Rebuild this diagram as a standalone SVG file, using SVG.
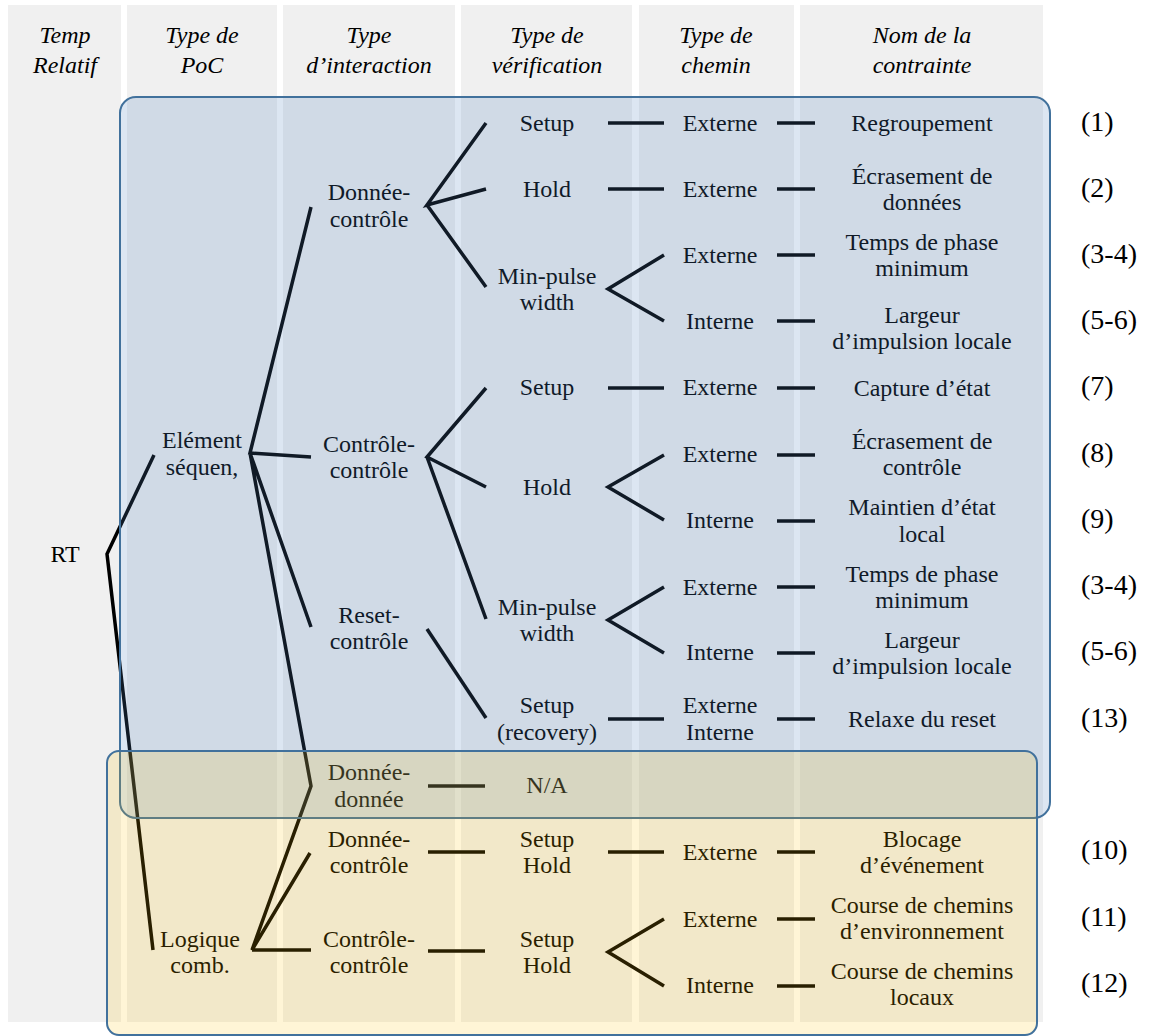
<svg xmlns="http://www.w3.org/2000/svg" width="1151" height="1036" viewBox="0 0 1151 1036">
<style>
text{font-family:Liberation Serif,DejaVu Serif,serif;font-size:24px;fill:#000;text-anchor:middle}
.h{font-style:italic}
.n{font-size:28px;text-anchor:start}
.col{fill:#f0f0f0}
.c{fill:none;stroke:#000;stroke-width:3.5;stroke-linejoin:miter}
</style>
<rect width="1151" height="1036" fill="#fff"/>
<g id="columns">
<rect class="col" x="8" y="5" width="113" height="1017"/>
<rect class="col" x="127" y="5" width="150" height="1017"/>
<rect class="col" x="283" y="5" width="172" height="1017"/>
<rect class="col" x="461" y="5" width="171" height="1017"/>
<rect class="col" x="639" y="5" width="155" height="1017"/>
<rect class="col" x="800" y="5" width="243" height="1017"/>
</g>
<g id="headers">
<text class="h" x="65" y="43">Temp</text><text class="h" x="65" y="73">Relatif</text>
<text class="h" x="202" y="43">Type de</text><text class="h" x="202" y="73">PoC</text>
<text class="h" x="369" y="43">Type</text><text class="h" x="369" y="73">d’interaction</text>
<text class="h" x="547" y="43">Type de</text><text class="h" x="547" y="73">vérification</text>
<text class="h" x="716" y="43">Type de</text><text class="h" x="716" y="73">chemin</text>
<text class="h" x="922" y="43">Nom de la</text><text class="h" x="922" y="73">contrainte</text>
</g>
<g id="connectors">
<path class="c" d="M154,455 L107,554 L153,950"/>
<path class="c" d="M311,207 L250,453 L311,457 M250,453 L311,627 M250,453 L311,786 L252,950 L310,853 M252,950 L311,950"/>
<path class="c" d="M486,123 L427,205 L486,189 M427,205 L486,287"/>
<path class="c" d="M486,388 L427,457 L486,487 M427,457 L486,619"/>
<path class="c" d="M427,629 L486,718"/>
<path class="c" d="M608,123 H664 M608,189 H664 M664,255 L608,289 L664,321 M608,388 H664 M664,455 L608,487 L664,520 M664,587 L608,620 L664,653 M608,719 H664"/>
<path class="c" d="M777,123 H815 M777,189 H815 M777,255 H815 M777,321 H815 M777,388 H815 M777,455 H815 M777,521 H815 M777,587 H815 M777,653 H815 M777,719 H815"/>
<path class="c" d="M428,786 H485 M428,852 H485 M428,951 H485 M608,852 H664 M664,919 L608,952 L664,986 M777,852 H815 M777,919 H815 M777,986 H815"/>
</g>
<g id="n-rt"><text x="65" y="562">RT</text></g>
<g id="n-element"><text x="202" y="448">Elément</text><text x="202" y="475">séquen,</text></g>
<g id="n-logique"><text x="200" y="947">Logique</text><text x="200" y="973">comb.</text></g>
<g id="n-dc1"><text x="369" y="200">Donnée-</text><text x="369" y="227">contrôle</text></g>
<g id="n-cc1"><text x="369" y="452">Contrôle-</text><text x="369" y="478">contrôle</text></g>
<g id="n-rc"><text x="369" y="623">Reset-</text><text x="369" y="649">contrôle</text></g>
<g id="n-dd"><text x="369" y="780">Donnée-</text><text x="369" y="807">donnée</text></g>
<g id="n-dc2"><text x="369" y="847">Donnée-</text><text x="369" y="873">contrôle</text></g>
<g id="n-cc2"><text x="369" y="947">Contrôle-</text><text x="369" y="973">contrôle</text></g>
<g id="n-v1"><text x="547" y="131">Setup</text></g>
<g id="n-v2"><text x="547" y="197">Hold</text></g>
<g id="n-v3"><text x="547" y="284">Min-pulse</text><text x="547" y="310">width</text></g>
<g id="n-v4"><text x="547" y="395">Setup</text></g>
<g id="n-v5"><text x="547" y="495">Hold</text></g>
<g id="n-v6"><text x="547" y="615">Min-pulse</text><text x="547" y="641">width</text></g>
<g id="n-v7"><text x="547" y="713">Setup</text><text x="547" y="740">(recovery)</text></g>
<g id="n-v8"><text x="547" y="793">N/A</text></g>
<g id="n-v9"><text x="547" y="847">Setup</text><text x="547" y="873">Hold</text></g>
<g id="n-v10"><text x="547" y="947">Setup</text><text x="547" y="973">Hold</text></g>
<g id="n-p1"><text x="720" y="131">Externe</text></g>
<g id="n-p2"><text x="720" y="197">Externe</text></g>
<g id="n-p3"><text x="720" y="263">Externe</text></g>
<g id="n-p4"><text x="720" y="329">Interne</text></g>
<g id="n-p5"><text x="720" y="395">Externe</text></g>
<g id="n-p6"><text x="720" y="462">Externe</text></g>
<g id="n-p7"><text x="720" y="528">Interne</text></g>
<g id="n-p8"><text x="720" y="595">Externe</text></g>
<g id="n-p9"><text x="720" y="660">Interne</text></g>
<g id="n-p10"><text x="720" y="713">Externe</text><text x="720" y="740">Interne</text></g>
<g id="n-p11"><text x="720" y="860">Externe</text></g>
<g id="n-p12"><text x="720" y="927">Externe</text></g>
<g id="n-p13"><text x="720" y="993">Interne</text></g>
<g id="n-c1"><text x="922" y="131">Regroupement</text><text class="n" x="1081" y="131">(1)</text></g>
<g id="n-c2"><text x="922" y="184">Écrasement de</text><text x="922" y="210">données</text><text class="n" x="1081" y="197">(2)</text></g>
<g id="n-c3"><text x="922" y="250">Temps de phase</text><text x="922" y="276">minimum</text><text class="n" x="1081" y="263">(3-4)</text></g>
<g id="n-c4"><text x="922" y="323">Largeur</text><text x="922" y="349">d’impulsion locale</text><text class="n" x="1081" y="329">(5-6)</text></g>
<g id="n-c5"><text x="922" y="396">Capture d’état</text><text class="n" x="1081" y="395">(7)</text></g>
<g id="n-c6"><text x="922" y="449">Écrasement de</text><text x="922" y="475">contrôle</text><text class="n" x="1081" y="462">(8)</text></g>
<g id="n-c7"><text x="922" y="515">Maintien d’état</text><text x="922" y="542">local</text><text class="n" x="1081" y="528">(9)</text></g>
<g id="n-c8"><text x="922" y="582">Temps de phase</text><text x="922" y="608">minimum</text><text class="n" x="1081" y="594">(3-4)</text></g>
<g id="n-c9"><text x="922" y="648">Largeur</text><text x="922" y="674">d’impulsion locale</text><text class="n" x="1081" y="660">(5-6)</text></g>
<g id="n-c10"><text x="922" y="727">Relaxe du reset</text><text class="n" x="1081" y="727">(13)</text></g>
<g id="n-c11"><text x="922" y="847">Blocage</text><text x="922" y="873">d’événement</text><text class="n" x="1081" y="859">(10)</text></g>
<g id="n-c12"><text x="922" y="913">Course de chemins</text><text x="922" y="939">d’environnement</text><text class="n" x="1081" y="926">(11)</text></g>
<g id="n-c13"><text x="922" y="979">Course de chemins</text><text x="922" y="1005">locaux</text><text class="n" x="1081" y="992">(12)</text></g>
<g id="overlays">
<rect x="120" y="97" width="930" height="721" rx="16" fill="#4f81bd" fill-opacity="0.2" stroke="#41719c" stroke-width="2"/>
<rect x="107" y="751" width="930" height="284" rx="12" fill="#ffc000" fill-opacity="0.16" stroke="#41719c" stroke-width="2"/>
</g>
</svg>
